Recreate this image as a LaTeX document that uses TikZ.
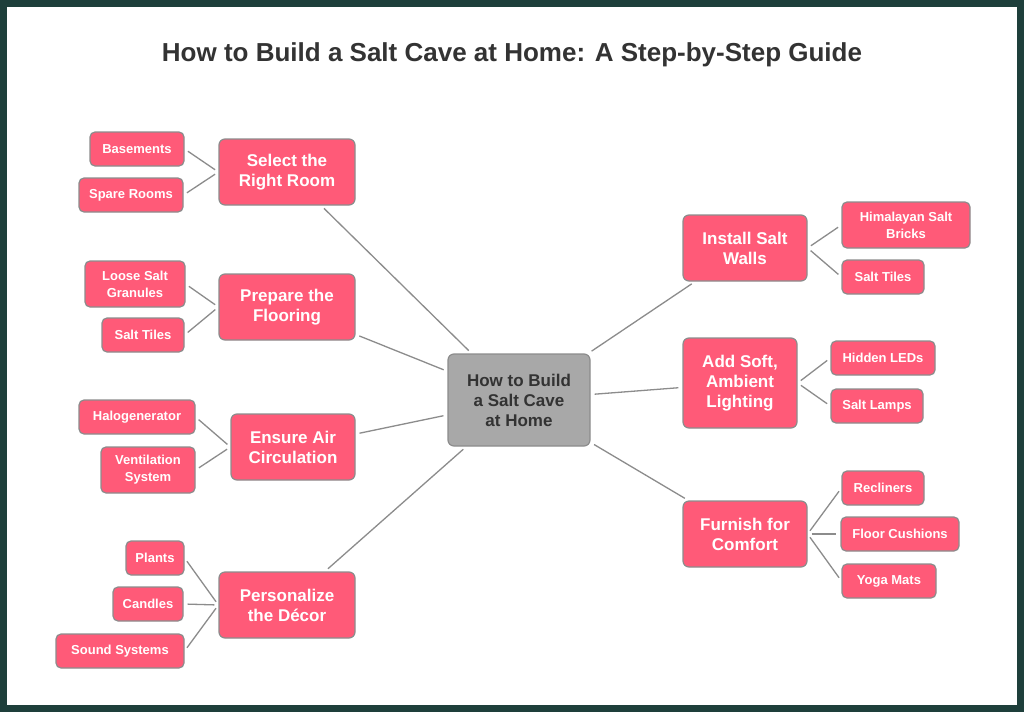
\documentclass[tikz,border=0pt]{standalone}
\usepackage{fontspec}
\setmainfont{Liberation Sans}
\definecolor{frame}{HTML}{1E3F3B}
\definecolor{pinkbox}{HTML}{FF5A78}
\definecolor{hubgray}{HTML}{A8A8A8}
\definecolor{linegray}{HTML}{8C8C8C}
\begin{document}
\begin{tikzpicture}[x=1pt,y=-1pt,
    step box/.style={draw=linegray, line width=1.2pt, fill=pinkbox, rounded corners=6pt,
      text=white, font=\fontsize{17}{20}\selectfont\bfseries, align=center,
      minimum height=66pt, inner sep=2pt},
    leaf box/.style={draw=linegray, line width=1.2pt, fill=pinkbox, rounded corners=5pt,
      text=white, font=\fontsize{13}{17}\selectfont\bfseries, align=center,
      minimum height=34pt, inner sep=2pt},
    link/.style={draw=linegray, line width=1.3pt},
    twig/.style={draw=linegray, line width=1.3pt, shorten <=4pt, shorten >=4pt}]
    \useasboundingbox (0,0) rectangle (1024,712);
    \fill[frame] (0,0) rectangle (1024,712);
    \fill[white] (7,7) rectangle (1017,705);
    \node[font=\fontsize{26}{30}\selectfont\bfseries, text=black!80] (title) at (512,55)
        {How to Build a Salt Cave at Home: A Step-by-Step Guide};
    % hub
    \node[step box, fill=hubgray, text=black!80, minimum width=142pt, minimum height=92pt] (hub) at (519,400)
        {How to Build\\a Salt Cave\\at Home};
    % left steps
    \node[step box, minimum width=136pt] (room) at (287,172) {Select the\\Right Room};
    \node[step box, minimum width=136pt] (floor) at (287,307) {Prepare the\\Flooring};
    \node[step box, minimum width=124pt] (air) at (293,447) {Ensure Air\\Circulation};
    \node[step box, minimum width=136pt] (decor) at (287,605) {Personalize\\the Décor};
    % right steps
    \node[step box, minimum width=124pt] (walls) at (745,248) {Install Salt\\Walls};
    \node[step box, minimum width=114pt, minimum height=90pt] (light) at (740,383) {Add Soft,\\Ambient\\Lighting};
    \node[step box, minimum width=124pt] (furn) at (745,534) {Furnish for\\Comfort};
    % leaves
    \node[leaf box, minimum width=94pt] (base) at (137,149) {Basements};
    \node[leaf box, minimum width=104pt] (spare) at (131,195) {Spare Rooms};
    \node[leaf box, minimum width=100pt, minimum height=46pt] (loose) at (135,284) {Loose Salt\\Granules};
    \node[leaf box, minimum width=82pt] (tilesl) at (143,335) {Salt Tiles};
    \node[leaf box, minimum width=116pt] (halo) at (137,417) {Halogenerator};
    \node[leaf box, minimum width=94pt, minimum height=46pt] (vent) at (148,470) {Ventilation\\System};
    \node[leaf box, minimum width=58pt] (plants) at (155,558) {Plants};
    \node[leaf box, minimum width=70pt] (candle) at (148,604) {Candles};
    \node[leaf box, minimum width=128pt] (sound) at (120,651) {Sound Systems};
    \node[leaf box, minimum width=128pt, minimum height=46pt] (brick) at (906,225) {Himalayan Salt\\Bricks};
    \node[leaf box, minimum width=82pt] (tilesr) at (883,277) {Salt Tiles};
    \node[leaf box, minimum width=104pt] (led) at (883,358) {Hidden LEDs};
    \node[leaf box, minimum width=92pt] (lamp) at (877,406) {Salt Lamps};
    \node[leaf box, minimum width=82pt] (recl) at (883,488) {Recliners};
    \node[leaf box, minimum width=118pt] (cush) at (900,534) {Floor Cushions};
    \node[leaf box, minimum width=94pt] (yoga) at (889,581) {Yoga Mats};
    % hub links
    \foreach \s in {room,floor,air,decor,walls,light,furn}
        \draw[link, shorten <=4pt, shorten >=4pt] (hub) -- (\s);
    % twigs
    \foreach \l/\s in {base/room,spare/room,loose/floor,tilesl/floor,halo/air,vent/air,
                       plants/decor,candle/decor,sound/decor}
        \draw[twig] (\l.east) -- (\s.west);
    \foreach \l/\s in {brick/walls,tilesr/walls,led/light,lamp/light,recl/furn,cush/furn,yoga/furn}
        \draw[twig] (\s.east) -- (\l.west);
\end{tikzpicture}
\end{document}
